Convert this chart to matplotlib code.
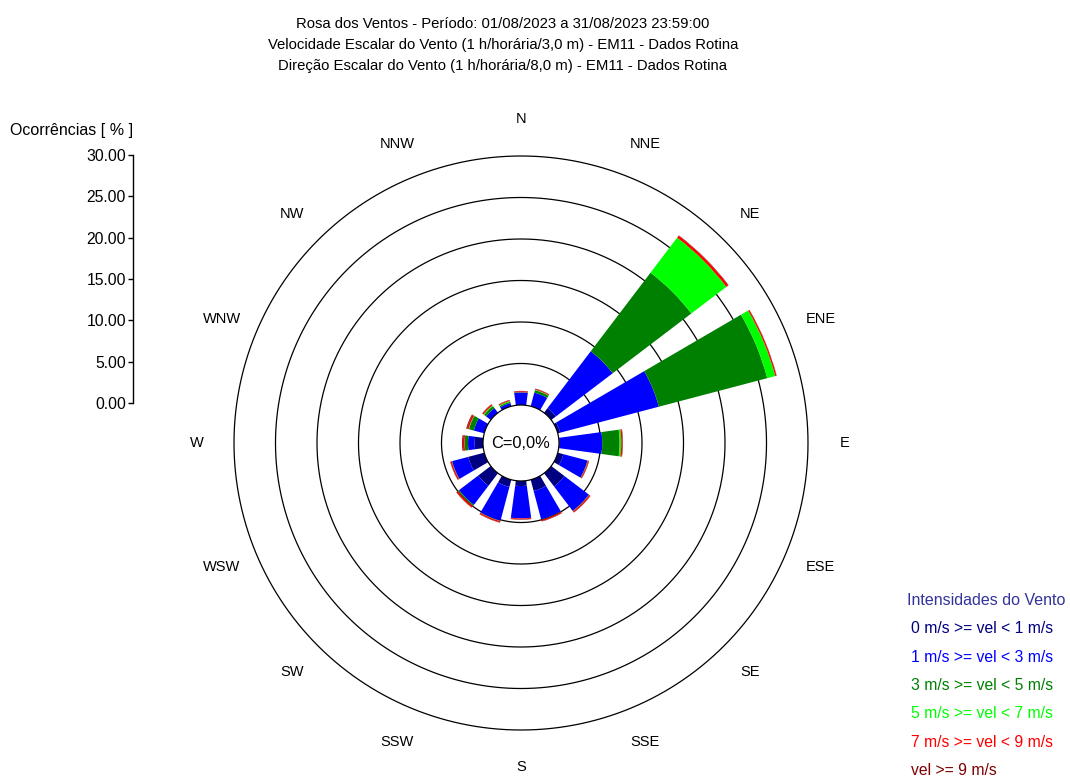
import numpy as np
import matplotlib
matplotlib.use("Agg")
import matplotlib.pyplot as plt

plt.rcParams['font.family'] = ['Liberation Sans', 'DejaVu Sans']

# ---- data ----
directions = ["N", "NNE", "NE", "ENE", "E", "ESE", "SE", "SSE",
              "S", "SSW", "SW", "WSW", "W", "WNW", "NW", "NNW"]
class_labels = ["0 m/s >= vel < 1 m/s", "1 m/s >= vel < 3 m/s", "3 m/s >= vel < 5 m/s",
                "5 m/s >= vel < 7 m/s", "7 m/s >= vel < 9 m/s", "vel >= 9 m/s"]
class_colors = ["#000080", "#0000ff", "#008000", "#00ff00", "#ff0000", "#800000"]
# frequency (%) per direction for each speed class
v_0_1 = [0.0, 0.0, 0.7, 0.3, 0.05, 0.7, 2.0, 1.4, 0.6, 0.9, 1.9, 2.0, 1.0, 0.0, 0.0, 0.0]
v_1_3 = [1.5, 1.7, 8.6, 12.3, 5.15, 3.0, 3.7, 3.55, 3.9, 4.2, 2.9, 2.0, 0.8, 1.3, 0.7, 0.4]
v_3_5 = [0.05, 0.3, 11.9, 13.5, 2.1, 0.05, 0.05, 0.05, 0.02, 0.05, 0.15, 0.05, 0.4, 0.6, 0.3, 0.15]
v_5_7 = [0.0, 0.05, 5.3, 1.0, 0.2, 0.0, 0.0, 0.0, 0.0, 0.0, 0.02, 0.0, 0.02, 0.05, 0.1, 0.1]
v_7_9 = [0.1, 0.1, 0.3, 0.15, 0.15, 0.1, 0.15, 0.15, 0.1, 0.15, 0.2, 0.15, 0.2, 0.2, 0.15, 0.1]
v_9p = [0.05, 0.05, 0.05, 0.03, 0.05, 0.05, 0.05, 0.05, 0.05, 0.05, 0.05, 0.05, 0.1, 0.1, 0.05, 0.05]
calm_text = "C=0,0%"
rings = [5, 10, 15, 20, 25, 30]
scale_ticks = [0, 5, 10, 15, 20, 25, 30]

title_lines = ["Rosa dos Ventos - Período: 01/08/2023 a 31/08/2023 23:59:00",
               "Velocidade Escalar do Vento (1 h/horária/3,0 m) - EM11 - Dados Rotina",
               "Direção Escalar do Vento (1 h/horária/8,0 m) - EM11 - Dados Rotina"]

# ---- figure ----
W, H = 1070, 779
fig = plt.figure(figsize=(W / 100, H / 100), dpi=100)

cx, cy, R = 521, 443, 287          # pixel centre / outer radius
offset = 4.58                      # calm-circle radius in % units
rmax = offset + 30

ax = fig.add_axes([(cx - R) / W, (H - cy - R) / H, 2 * R / W, 2 * R / H], projection='polar')
ax.set_theta_zero_location('N')
ax.set_theta_direction(-1)
ax.set_ylim(0, rmax)
ax.set_xticks([])
ax.set_yticks([])
ax.grid(False)
ax.spines['polar'].set_visible(False)
ax.patch.set_alpha(0)

theta = np.deg2rad(np.arange(16) * 22.5)
width = np.deg2rad(15.5)
series = [v_0_1, v_1_3, v_3_5, v_5_7, v_7_9, v_9p]
bottom = np.full(16, offset)
handles = []
for vals, col, lab in zip(series, class_colors, class_labels):
    vals = np.array(vals)
    b = ax.bar(theta, vals, width=width, bottom=bottom, color=col, edgecolor='none',
               linewidth=0, label=lab, zorder=3)
    handles.append(b)
    bottom = bottom + vals

tt = np.linspace(0, 2 * np.pi, 721)
ax.plot(tt, np.full_like(tt, offset), color='black', lw=0.9, zorder=4,
        solid_capstyle='butt')
for r in rings:
    ax.plot(tt, np.full_like(tt, offset + r), color='black', lw=0.9, zorder=2,
            clip_on=False, solid_capstyle='butt')

ax.text(0, 0, calm_text, ha='center', va='center', fontsize=11.8, zorder=5)

label_r = rmax * 324 / R
for th, d in zip(theta, directions):
    ax.text(th, label_r, d, ha='center', va='center', fontsize=10.5, clip_on=False)

# titles
for i, line in enumerate(title_lines):
    fig.text(503 / W, 1 - (24 + 21 * i) / H, line, ha='center', va='center', fontsize=10.75)

# scale bar
sax = fig.add_axes([133 / W, (H - 403) / H, 0.001, 248 / H])
sax.set_ylim(0, 30)
sax.set_xticks([])
sax.set_yticks(scale_ticks)
sax.set_yticklabels([f"{v:.2f}" for v in scale_ticks], fontsize=11.3)
for s in ['top', 'right', 'bottom']:
    sax.spines[s].set_visible(False)
sax.spines['left'].set_linewidth(1.0)
sax.tick_params(axis='y', direction='out', length=3.6, width=1.0, pad=1.5)
sax.patch.set_alpha(0)
fig.text(10 / W, 1 - 130 / H, "Ocorrências [ % ]", ha='left', va='center', fontsize=11.5)

# legend
leg = fig.legend(handles=handles, labels=class_labels, loc='upper left',
                 bbox_to_anchor=(893 / W, 1 - 579 / H), frameon=False,
                 handlelength=0, handletextpad=0, labelspacing=0.85,
                 fontsize=11.3, title="Intensidades do Vento", title_fontsize=11.5,
                 alignment='left')
for h in leg.legend_handles:
    h.set_visible(False)
for txt, col in zip(leg.get_texts(), class_colors):
    txt.set_color(col)
    txt.set_x(4)
leg.get_title().set_color("#333399")

fig.savefig("out.png", dpi=100)
